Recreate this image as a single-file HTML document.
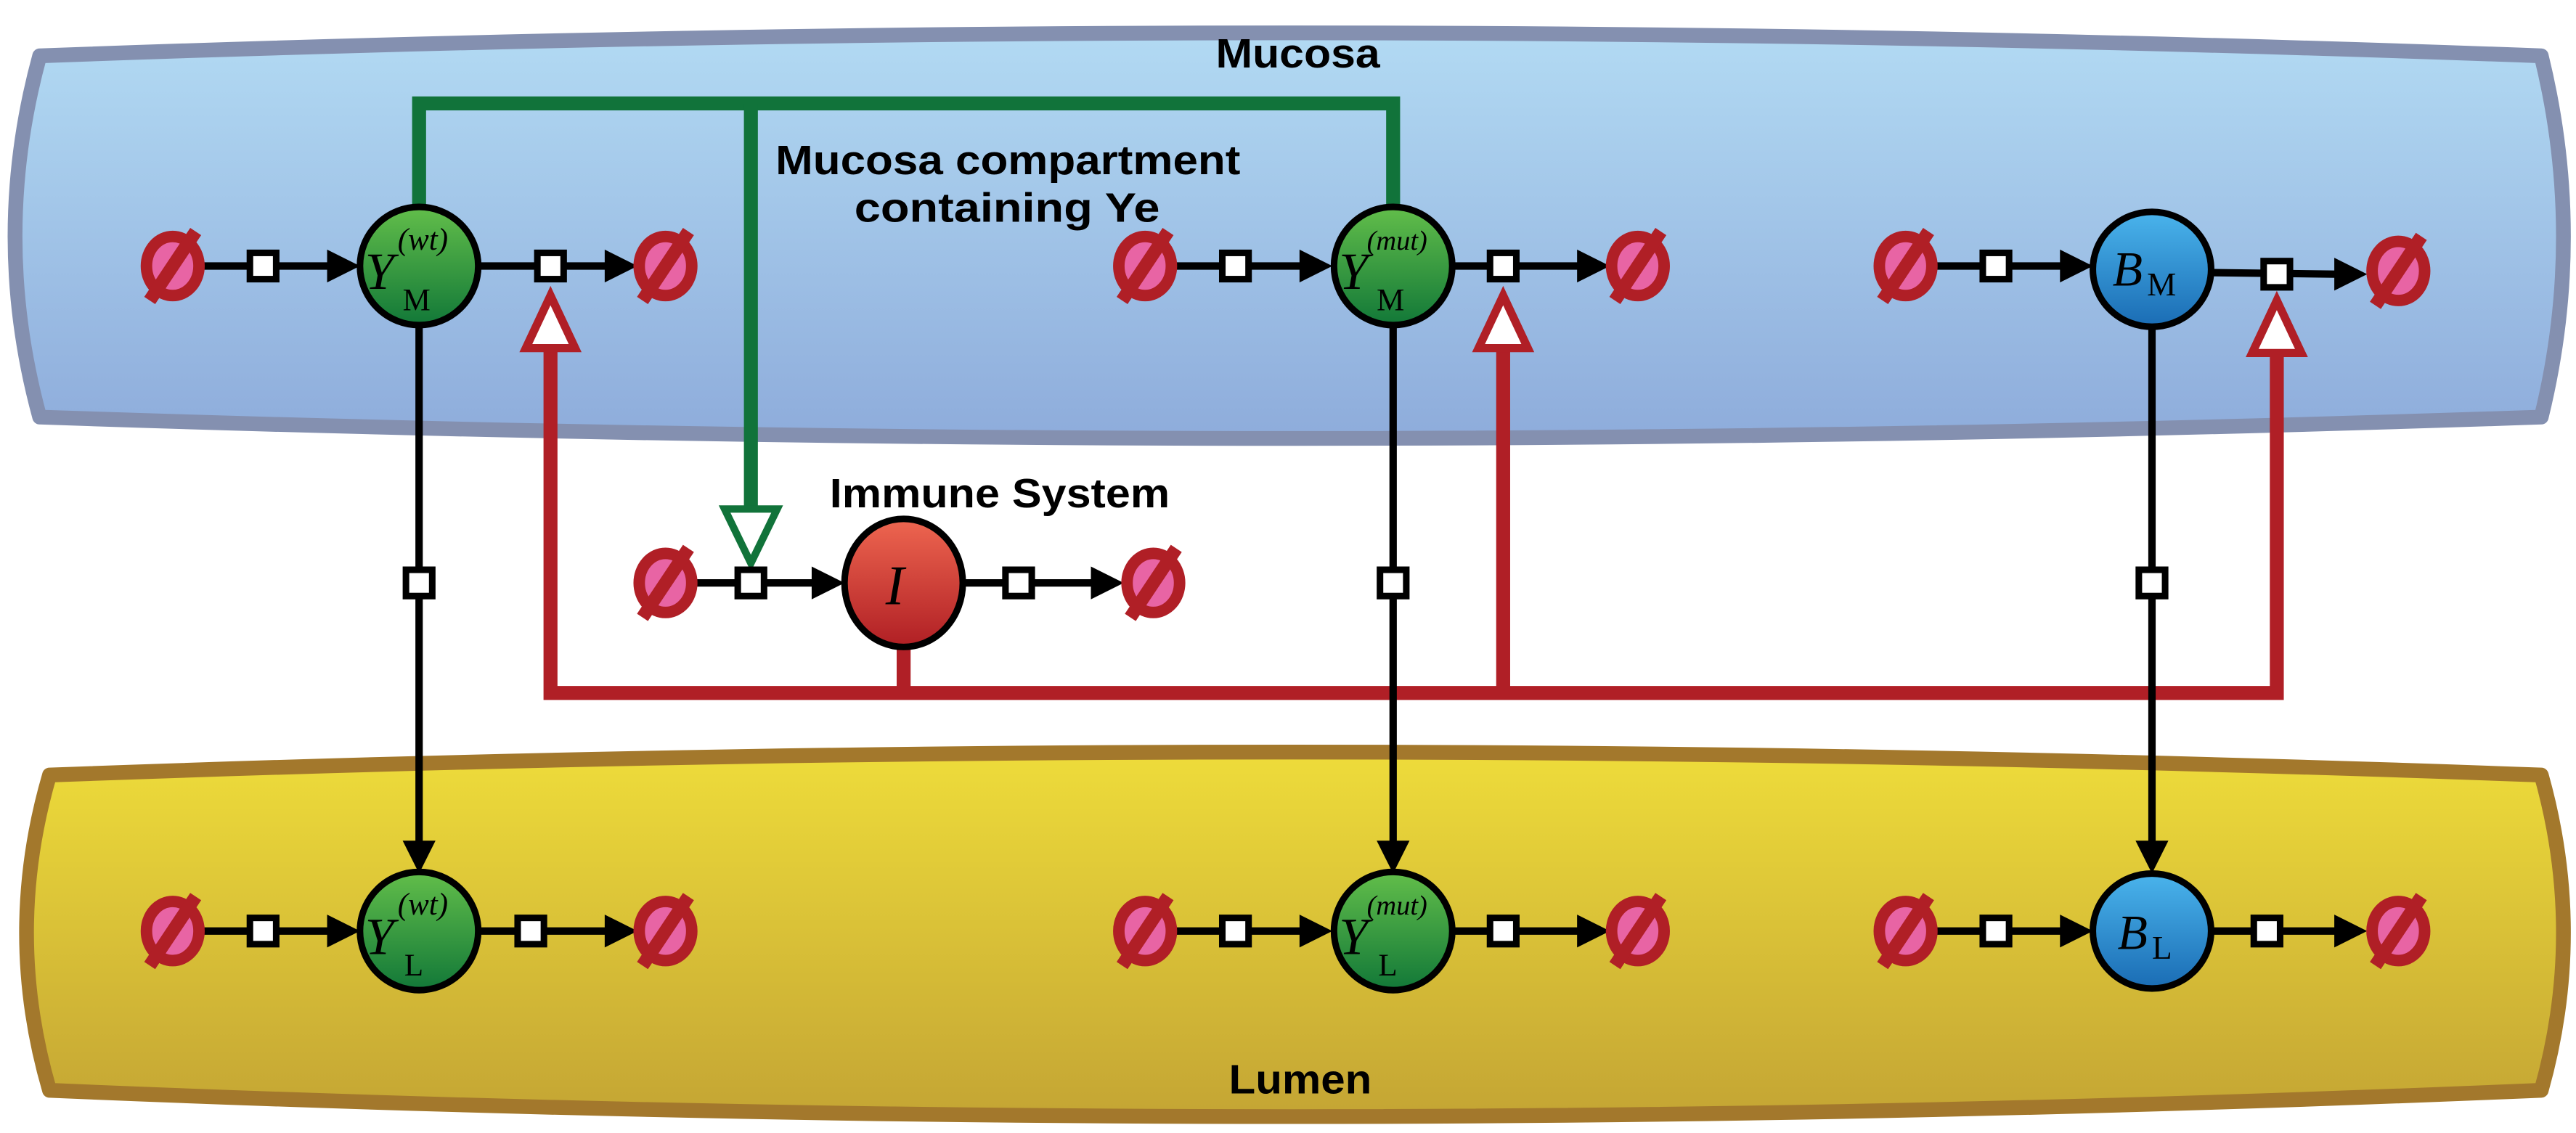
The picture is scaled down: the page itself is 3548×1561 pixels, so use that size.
<!DOCTYPE html>
<html><head><meta charset="utf-8"><style>html,body{margin:0;padding:0;background:#fff}svg{display:block}</style></head><body>
<svg width="3548" height="1561" viewBox="0 0 1568 690" xmlns="http://www.w3.org/2000/svg">
<defs>
<linearGradient id="mb" x1="0" y1="0" x2="0" y2="1"><stop offset="0" stop-color="#b2daf3"/><stop offset="1" stop-color="#8eacdb"/></linearGradient>
<linearGradient id="ly" x1="0" y1="0" x2="0" y2="1"><stop offset="0" stop-color="#eedc3a"/><stop offset="1" stop-color="#c4a534"/></linearGradient>
<linearGradient id="gn" x1="0" y1="0" x2="0" y2="1"><stop offset="0" stop-color="#62be4a"/><stop offset="1" stop-color="#127838"/></linearGradient>
<linearGradient id="bl" x1="0" y1="0" x2="0" y2="1"><stop offset="0" stop-color="#4ab4ec"/><stop offset="1" stop-color="#1a6cb4"/></linearGradient>
<linearGradient id="rd" x1="0" y1="0" x2="0" y2="1"><stop offset="0" stop-color="#ee6650"/><stop offset="1" stop-color="#b01f24"/></linearGradient>
<g id="nul"><ellipse cx="0" cy="0" rx="16" ry="18" fill="#e864a4" stroke="#b01f26" stroke-width="7"/><line x1="-14" y1="21" x2="14" y2="-21" stroke="#b01f26" stroke-width="8"/></g>
<rect id="sq" x="-8" y="-8" width="16" height="16" fill="#fff" stroke="#000" stroke-width="4"/>
</defs>
<!-- Mucosa -->
<path d="M24,34 Q784,6 1547,34 Q1574,144 1547,254 Q784,280 24,254 Q-6,144 24,34 Z" fill="url(#mb)" stroke="#8490b0" stroke-width="9" stroke-linejoin="round"/>
<!-- Lumen -->
<path d="M30,472 Q784,444 1547,472 Q1574,568 1547,664 Q784,696 30,664 Q2,568 30,472 Z" fill="url(#ly)" stroke="#a3782c" stroke-width="9" stroke-linejoin="round"/>
<g font-family="Liberation Sans, sans-serif" font-weight="bold" font-size="25" fill="#000">
<text x="740" y="41" textLength="100" lengthAdjust="spacingAndGlyphs">Mucosa</text>
<text x="472" y="106" textLength="283" lengthAdjust="spacingAndGlyphs">Mucosa compartment</text>
<text x="520" y="135" textLength="186" lengthAdjust="spacingAndGlyphs">containing Ye</text>
<text x="505" y="309" textLength="207" lengthAdjust="spacingAndGlyphs">Immune System</text>
<text x="748" y="666" textLength="87" lengthAdjust="spacingAndGlyphs">Lumen</text>
</g>
<!-- green -->
<path d="M255,130 V63 H848 V128" fill="none" stroke="#11733a" stroke-width="8.5"/>
<line x1="457" y1="63" x2="457" y2="310" stroke="#11733a" stroke-width="8.5"/>
<polygon points="441,310 473,310 457,343" fill="#fff" stroke="#11733a" stroke-width="4.5"/>
<!-- red -->
<path d="M335,212 V422 H1386 V215 M915,212 V422 M550,392 V422" fill="none" stroke="#b01f26" stroke-width="8.5"/>
<polygon points="335,180 320,212 350,212" fill="#fff" stroke="#b01f26" stroke-width="5"/>
<polygon points="915,180 900,212 930,212" fill="#fff" stroke="#b01f26" stroke-width="5"/>
<polygon points="1386,183 1371,215 1401,215" fill="#fff" stroke="#b01f26" stroke-width="5"/>
<!-- vertical black -->
<g stroke="#000" stroke-width="4.5">
<line x1="255" y1="196" x2="255" y2="515"/><line x1="848" y1="196" x2="848" y2="515"/><line x1="1310" y1="196" x2="1310" y2="515"/>
</g>
<g fill="#000"><polygon points="245,512 265,512 255,532"/><polygon points="838,512 858,512 848,532"/><polygon points="1300,512 1320,512 1310,532"/></g>
<!-- horizontal reaction lines -->
<g stroke="#000" stroke-width="4.5">
<line x1="120" y1="162" x2="205" y2="162"/><line x1="290" y1="162" x2="372" y2="162"/>
<line x1="712" y1="162" x2="795" y2="162"/><line x1="883" y1="162" x2="965" y2="162"/>
<line x1="1175" y1="162" x2="1258" y2="162"/><line x1="1345" y1="166" x2="1425" y2="167"/>
<line x1="420" y1="355" x2="500" y2="355"/><line x1="585" y1="355" x2="668" y2="355"/>
<line x1="120" y1="567" x2="205" y2="567"/><line x1="290" y1="567" x2="372" y2="567"/>
<line x1="712" y1="567" x2="795" y2="567"/><line x1="883" y1="567" x2="965" y2="567"/>
<line x1="1175" y1="567" x2="1258" y2="567"/><line x1="1345" y1="567" x2="1425" y2="567"/>
</g>
<g fill="#000">
<polygon points="199,152 199,172 219,162"/><polygon points="368,152 368,172 388,162"/>
<polygon points="791,152 791,172 811,162"/><polygon points="960,152 960,172 980,162"/>
<polygon points="1254,152 1254,172 1274,162"/><polygon points="1421,157 1421,177 1441,167"/>
<polygon points="494,345 494,365 514,355"/><polygon points="664,345 664,365 684,355"/>
<polygon points="199,557 199,577 219,567"/><polygon points="368,557 368,577 388,567"/>
<polygon points="791,557 791,577 811,567"/><polygon points="960,557 960,577 980,567"/>
<polygon points="1254,557 1254,577 1274,567"/><polygon points="1421,557 1421,577 1441,567"/>
</g>
<!-- squares -->
<use href="#sq" x="160" y="162"/><use href="#sq" x="335" y="162"/><use href="#sq" x="752" y="162"/><use href="#sq" x="915" y="162"/><use href="#sq" x="1215" y="162"/><use href="#sq" x="1386" y="167"/>
<use href="#sq" x="457" y="355"/><use href="#sq" x="620" y="355"/>
<use href="#sq" x="255" y="355"/><use href="#sq" x="848" y="355"/><use href="#sq" x="1310" y="355"/>
<use href="#sq" x="160" y="567"/><use href="#sq" x="323" y="567"/><use href="#sq" x="752" y="567"/><use href="#sq" x="915" y="567"/><use href="#sq" x="1215" y="567"/><use href="#sq" x="1380" y="567"/>
<!-- nulls -->
<use href="#nul" x="105" y="162"/><use href="#nul" x="405" y="162"/><use href="#nul" x="697" y="162"/><use href="#nul" x="997" y="162"/><use href="#nul" x="1160" y="162"/><use href="#nul" x="1460" y="165"/>
<use href="#nul" x="405" y="355"/><use href="#nul" x="702" y="355"/>
<use href="#nul" x="105" y="567"/><use href="#nul" x="405" y="567"/><use href="#nul" x="697" y="567"/><use href="#nul" x="997" y="567"/><use href="#nul" x="1160" y="567"/><use href="#nul" x="1460" y="567"/>
<!-- nodes -->
<g stroke="#000" stroke-width="4">
<ellipse cx="255" cy="162" rx="36" ry="36" fill="url(#gn)"/>
<ellipse cx="848" cy="162" rx="36" ry="36" fill="url(#gn)"/>
<ellipse cx="1310" cy="164" rx="36" ry="35" fill="url(#bl)"/>
<ellipse cx="550" cy="355" rx="36" ry="39" fill="url(#rd)"/>
<ellipse cx="255" cy="567" rx="36" ry="36" fill="url(#gn)"/>
<ellipse cx="848" cy="567" rx="36" ry="36" fill="url(#gn)"/>
<ellipse cx="1310" cy="567" rx="36" ry="35" fill="url(#bl)"/>
</g>
<g font-family="Liberation Serif, serif" fill="#000">
<text x="222" y="176" font-size="32" font-style="italic">Y</text><text x="242" y="152" font-size="19" font-style="italic">(wt)</text><text x="245" y="189" font-size="19">M</text>
<text x="815" y="176" font-size="32" font-style="italic">Y</text><text x="832" y="152" font-size="17" font-style="italic">(mut)</text><text x="838" y="189" font-size="19">M</text>
<text x="1286" y="174" font-size="30" font-style="italic">B</text><text x="1307" y="180" font-size="20">M</text>
<text x="539" y="368" font-size="34" font-style="italic">I</text>
<text x="222" y="581" font-size="32" font-style="italic">Y</text><text x="242" y="557" font-size="19" font-style="italic">(wt)</text><text x="246" y="594" font-size="19">L</text>
<text x="815" y="581" font-size="32" font-style="italic">Y</text><text x="832" y="557" font-size="17" font-style="italic">(mut)</text><text x="839" y="594" font-size="19">L</text>
<text x="1289" y="578" font-size="30" font-style="italic">B</text><text x="1310" y="584" font-size="20">L</text>
</g>
</svg>
</body></html>
